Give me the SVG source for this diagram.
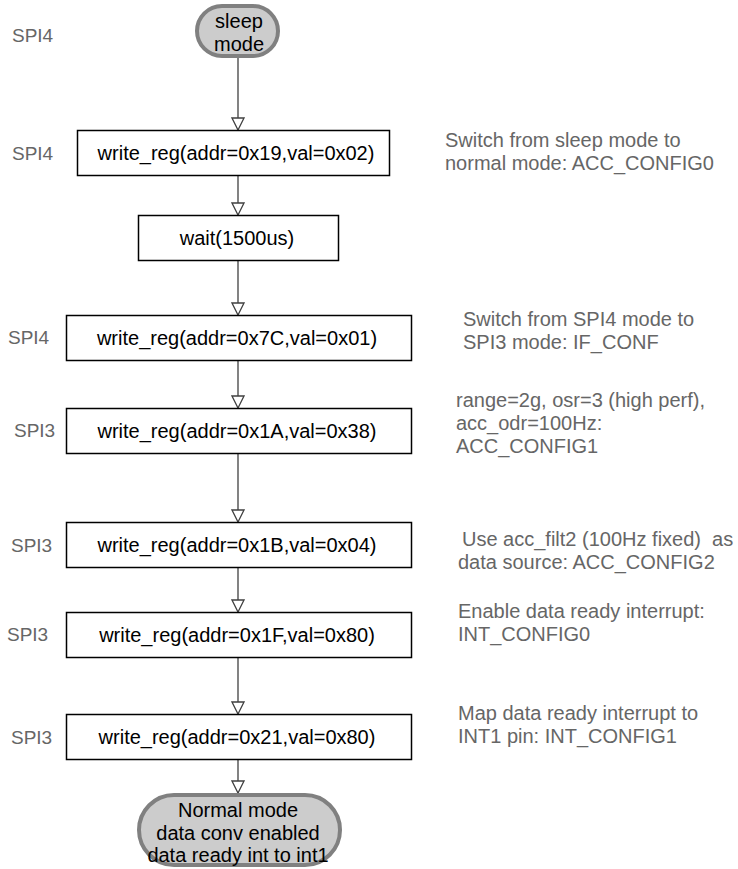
<svg xmlns="http://www.w3.org/2000/svg" width="738" height="869" viewBox="0 0 738 869">
<defs>
<style>
.box{fill:#fff;stroke:#000;stroke-width:1.5}
.pill{fill:#cccccc;stroke:#808080;stroke-width:4}
.t{font-family:"Liberation Sans",Arial,sans-serif;font-size:20px;fill:#000;text-anchor:middle}
.lbl{font-family:"Liberation Sans",Arial,sans-serif;font-size:19px;fill:#666}
.ann{font-family:"Liberation Sans",Arial,sans-serif;font-size:20px;fill:#666;white-space:pre}
.c{stroke:#404040;stroke-width:1.3;fill:none;marker-end:url(#arr)}
</style>
<marker id="arr" viewBox="0 0 14 14" refX="13" refY="7" markerWidth="14" markerHeight="14" markerUnits="userSpaceOnUse" orient="auto">
<path d="M1,1 L13,7 L1,13 Z" fill="#fff" stroke="#404040" stroke-width="1.3"/>
</marker>
</defs>
<rect width="738" height="869" fill="#fff"/>
<g id="connectors">
<line class="c" x1="238" y1="58" x2="238" y2="130"/>
<line class="c" x1="238" y1="176" x2="238" y2="215"/>
<line class="c" x1="238" y1="260" x2="238" y2="315"/>
<line class="c" x1="238" y1="360" x2="238" y2="408"/>
<line class="c" x1="238" y1="453" x2="238" y2="522"/>
<line class="c" x1="238" y1="567" x2="238" y2="612"/>
<line class="c" x1="238" y1="658" x2="238" y2="714"/>
<line class="c" x1="238" y1="759" x2="238" y2="793"/>
</g>
<g id="sleep">
<rect class="pill" x="197" y="6" width="81" height="50" rx="25"/>
<text class="t" x="239" y="28">sleep</text>
<text class="t" x="239" y="51">mode</text>
</g>
<g id="n1">
<rect class="box" x="77.5" y="130.5" width="312" height="45"/>
<text class="t" x="236" y="160">write_reg(addr=0x19,val=0x02)</text>
</g>
<g id="n2">
<rect class="box" x="138.5" y="215.5" width="200" height="45"/>
<text class="t" x="237" y="244.5">wait(1500us)</text>
</g>
<g id="n3">
<rect class="box" x="66.5" y="315.5" width="345" height="45"/>
<text class="t" x="237" y="344.5">write_reg(addr=0x7C,val=0x01)</text>
</g>
<g id="n4">
<rect class="box" x="66.5" y="408.5" width="345" height="45"/>
<text class="t" x="237" y="437.5">write_reg(addr=0x1A,val=0x38)</text>
</g>
<g id="n5">
<rect class="box" x="66.5" y="522.5" width="345" height="45"/>
<text class="t" x="237" y="551.5">write_reg(addr=0x1B,val=0x04)</text>
</g>
<g id="n6">
<rect class="box" x="66.5" y="612.5" width="345" height="45"/>
<text class="t" x="237" y="642">write_reg(addr=0x1F,val=0x80)</text>
</g>
<g id="n7">
<rect class="box" x="66.5" y="714.5" width="345" height="45"/>
<text class="t" x="237" y="743.5">write_reg(addr=0x21,val=0x80)</text>
</g>
<g id="end">
<rect class="pill" x="139" y="795" width="201" height="70" rx="35"/>
<text class="t" x="238" y="817">Normal mode</text>
<text class="t" x="238" y="840">data conv enabled</text>
<text class="t" x="238" y="862">data ready int to int1</text>
</g>
<g id="labels">
<text class="lbl" x="12" y="42">SPI4</text>
<text class="lbl" x="12" y="160">SPI4</text>
<text class="lbl" x="8" y="344">SPI4</text>
<text class="lbl" x="14" y="437">SPI3</text>
<text class="lbl" x="11" y="552">SPI3</text>
<text class="lbl" x="7" y="641">SPI3</text>
<text class="lbl" x="11" y="744">SPI3</text>
</g>
<g id="notes">
<text class="ann" x="445" y="147">Switch from sleep mode to</text>
<text class="ann" x="445" y="170">normal mode: ACC_CONFIG0</text>
<text class="ann" x="463" y="326">Switch from SPI4 mode to</text>
<text class="ann" x="463" y="349">SPI3 mode: IF_CONF</text>
<text class="ann" x="456" y="407">range=2g, osr=3 (high perf),</text>
<text class="ann" x="456" y="430">acc_odr=100Hz:</text>
<text class="ann" x="456" y="453">ACC_CONFIG1</text>
<text class="ann" x="462" y="546">Use acc_filt2 (100Hz fixed)  as</text>
<text class="ann" x="458" y="569">data source: ACC_CONFIG2</text>
<text class="ann" x="458" y="618">Enable data ready interrupt:</text>
<text class="ann" x="458" y="641">INT_CONFIG0</text>
<text class="ann" x="458" y="720">Map data ready interrupt to</text>
<text class="ann" x="458" y="743">INT1 pin: INT_CONFIG1</text>
</g>
</svg>
